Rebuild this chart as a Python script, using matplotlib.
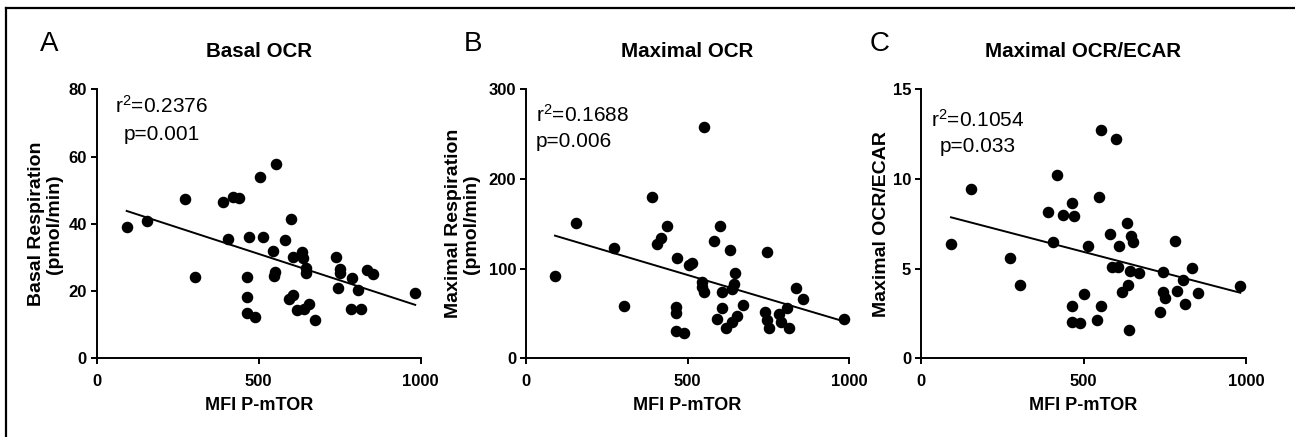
import numpy as np
import matplotlib
matplotlib.use("Agg")
import matplotlib.pyplot as plt
from matplotlib.lines import Line2D

plt.rcParams['font.family'] = ['Liberation Sans', 'DejaVu Sans']

## data
# panel A - basal OCR
mfi_a = [92.6, 154, 272.5, 303, 391, 422, 439, 406, 470, 463, 463, 463, 488.6, 504, 512,
         543, 553, 551, 548, 581, 592.6, 607, 601, 607, 619, 633.6, 638, 654, 640, 646,
         646, 674, 737.6, 751, 751, 746, 784, 789, 807, 815, 833, 854, 983]
basal = [39.0, 40.8, 47.4, 24.2, 46.4, 48.1, 47.8, 35.6, 36.2, 24.2, 18.2, 13.6, 12.4, 53.8, 36.0,
         32.0, 57.7, 25.8, 24.6, 35.2, 17.6, 18.8, 41.4, 30.0, 14.4, 31.7, 29.7, 16.1, 14.6, 26.8,
         25.3, 11.4, 30.1, 26.5, 25.5, 20.8, 14.8, 23.9, 20.3, 14.8, 26.3, 25.1, 19.3]

# panel B - maximal OCR
mfi_b = [89.7, 153.6, 272, 303, 389.7, 404, 417.6, 436, 468, 463, 463, 463, 487.7, 505, 512.6,
         551.5, 545, 543, 550, 580.5, 600, 632, 606, 607, 592, 619.6, 645.5, 644, 637, 652.6,
         638, 672, 745.4, 739, 745, 751.6, 781.5, 787.7, 806, 814.5, 834, 855.5, 983.6]
maximal = [92.1, 150.9, 123.4, 58.7, 179.5, 127.5, 133.8, 147.9, 111.8, 56.9, 50.9, 30.8, 27.9, 104, 106,
           258.3, 85.4, 79.9, 73.6, 130.8, 147.5, 120.8, 73.6, 55.8, 43.8, 34.1, 94.8, 82.5, 77.3, 47.5,
           40.1, 59.4, 118.2, 51.3, 42.7, 34.1, 49.7, 40.1, 55.8, 34.1, 78, 65.8, 44.2]

# panel C - maximal OCR/ECAR
mfi_c = [92.3, 155, 272.6, 303.6, 390, 406, 419.5, 436, 463.6, 469.7, 463.6, 463.6, 489, 502.7, 514,
         541.5, 553, 553, 548.7, 580.5, 600, 588.7, 607, 608, 632.8, 645, 651, 643, 670.8, 636,
         619, 639, 745.6, 743.7, 752, 736.3, 782.5, 786.7, 806, 812, 833, 851.4, 982.5]
ratio = [6.37, 9.42, 5.58, 4.07, 8.16, 6.5, 10.2, 8.01, 8.64, 7.95, 2.9, 2.04, 1.95, 3.6, 6.28,
         2.12, 2.93, 12.73, 8.98, 6.95, 12.23, 5.11, 5.11, 6.28, 7.53, 6.8, 6.5, 4.89, 4.74, 4.07,
         3.68, 1.6, 4.8, 3.7, 3.35, 2.6, 6.54, 3.74, 4.35, 3.01, 5.04, 3.64, 4.02]

letters = ['A', 'B', 'C']
titles = ['Basal OCR', 'Maximal OCR', 'Maximal OCR/ECAR']
ylabels = ['Basal Respiration\n(pmol/min)', 'Maximal Respiration\n(pmol/min)', 'Maximal OCR/ECAR']
yticks = [[0, 20, 40, 60, 80], [0, 100, 200, 300], [0, 5, 10, 15]]
r2_text = [r'$\mathregular{r^2}$=0.2376', r'$\mathregular{r^2}$=0.1688', r'$\mathregular{r^2}$=0.1054']
p_text = ['p=0.001', 'p=0.006', 'p=0.033']
xticks = [0, 500, 1000]

## layout (pixels of a 1295x437 picture)
W, H = 1295, 437
left_px = [96.7, 526, 921]
width_px = [324, 323.3, 325]
top_px, bot_px = 89.3, 358.3
ylab_off = [-51, -63.6, -40]     # centre of y label relative to y axis
# annotation: (x, y line1, y line2) in data units, alignment
ann_pos = [(201, 75.1, 66.6, 'center'), (31, 272, 241.5, 'left'), (175, 13.3, 11.8, 'center')]
letter_x = [49, 473, 880]

fig = plt.figure(figsize=(W / 100, H / 100), dpi=100)

xs_all = [mfi_a, mfi_b, mfi_c]
ys_all = [basal, maximal, ratio]

for i in range(3):
    ax = fig.add_axes([left_px[i] / W, (H - bot_px) / H, width_px[i] / W, (bot_px - top_px) / H])
    x = np.array(xs_all[i])
    y = np.array(ys_all[i])
    ax.plot(x, y, 'o', color='black', markersize=7.3, clip_on=False, zorder=3)

    # linear regression over the data range
    k, b = np.polyfit(x, y, 1)
    xl = np.array([x.min(), x.max()])
    ax.plot(xl, k * xl + b, color='black', lw=1.4, zorder=2)

    ax.set_xlim(0, 1000)
    ax.set_ylim(yticks[i][0], yticks[i][-1])
    ax.set_xticks(xticks)
    ax.set_yticks(yticks[i])
    for s in ['top', 'right']:
        ax.spines[s].set_visible(False)
    for s in ['left', 'bottom']:
        ax.spines[s].set_linewidth(1.4)
    ax.tick_params(axis='both', direction='out', length=4, width=1.4, labelsize=12)
    ax.tick_params(axis='x', pad=7.5)
    ax.tick_params(axis='y', pad=3)
    for lab in ax.get_xticklabels() + ax.get_yticklabels():
        lab.set_fontweight('bold')

    ax.set_title(titles[i], fontsize=14.8, fontweight='bold', pad=23)
    ax.set_xlabel('MFI P-mTOR', fontsize=13, fontweight='bold', labelpad=5.5)
    ax.text(ylab_off[i] / width_px[i], 0.5, ylabels[i], transform=ax.transAxes, rotation=90,
            ha='center', va='center', multialignment='center', fontsize=14,
            fontweight='bold', linespacing=1.1)

    ax_x, ay1, ay2, al = ann_pos[i]
    ax.text(ax_x, ay1, r2_text[i], ha=al, va='center', fontsize=15)
    ax.text(ax_x, ay2, p_text[i], ha=al, va='center', fontsize=15)

    fig.text(letter_x[i] / W, 1 - 44 / H, letters[i], ha='center', va='center', fontsize=20)

# outer frame (left and top edges only are in the picture)
fig.add_artist(Line2D([6 / W, 6 / W], [0, 1 - 8 / H], color='black', lw=1.6))
fig.add_artist(Line2D([6 / W, 1], [1 - 8 / H, 1 - 8 / H], color='black', lw=1.6))

fig.savefig('out.png', dpi=100)
